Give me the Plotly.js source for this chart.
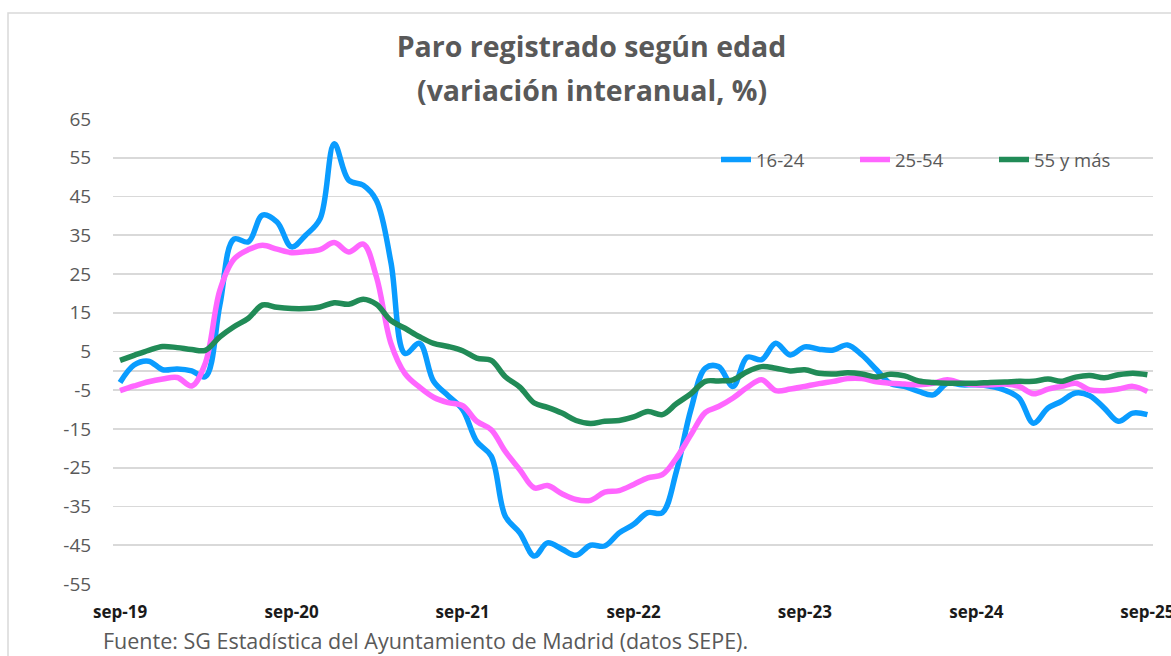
<!DOCTYPE html>
<html>
<head>
<meta charset="utf-8">
<script src="https://cdn.plot.ly/plotly-3.0.1.min.js"></script>
<style>
  html, body { margin: 0; padding: 0; background: #ffffff; }
  #chart { width: 1171px; height: 656px; }
</style>
</head>
<body>
<div id="chart"></div>
<script>
// Monthly observations, sep-2019 .. sep-2025 (73 months)
var startYear = 2019, startMonth = 9, nMonths = 73;
var months = [];
for (var k = 0; k < nMonths; k++) {
  var m = startMonth - 1 + k;
  var yy = startYear + Math.floor(m / 12);
  var mm = (m % 12) + 1;
  months.push(yy + '-' + (mm < 10 ? '0' + mm : mm) + '-01');
}

var seriesNames = ['16-24', '25-54', '55 y más'];

var edad16_24 = [
  -3, 1.5, 2.5, 0.3, 0.5, 0, -1.5, 17, 34, 33.3,
  40.2, 38.4, 32, 35, 39.3, 58.6, 49.2, 47.9, 44, 28,
  4.5, 7.1, -2.7, -6.4, -10, -18.2, -22, -37.5, -41.8, -47.8,
  -44.4, -46, -47.6, -45, -45.2, -41.8, -39.6, -36.6, -36.6, -26,
  -10, 0.7, 1.1, -4, 3.5, 2.9, 7.1, 4.1, 6.2, 5.6,
  5.4, 6.7, 4.1, 0.3, -3.2, -4, -5.3, -6.2, -3.2, -3.6,
  -3.6, -4, -5, -7, -13.5, -9.6, -7.9, -5.7, -6.4, -9.6,
  -13, -10.9, -11.3
];

var edad25_54 = [
  -5.1, -3.9, -2.8, -2.1, -1.7, -3.9, 2, 20.8, 28.8, 31.3,
  32.4, 31.4, 30.5, 30.8, 31.3, 33.1, 30.7, 32.7, 24.3, 7.1,
  -0.7, -4.2, -6.8, -8.2, -9, -13, -15.2, -20.8, -25.5, -30.2,
  -29.6, -31.7, -33.2, -33.4, -31.3, -30.9, -29.3, -27.6, -26.8, -22.5,
  -16.5, -10.7, -9.2, -7, -4.3, -2.3, -5.1, -4.7, -4, -3.3,
  -2.7, -2, -2, -2.8, -3.2, -3.4, -3.6, -3.2, -2.3, -3.2,
  -3.6, -3.6, -3.4, -4, -5.9, -4.7, -4, -3.2, -4.9, -5.1,
  -4.7, -4, -5.3
];

var edad55mas = [
  2.7, 4.0, 5.3, 6.3, 6.0, 5.5, 5.3, 8.8, 11.4, 13.6,
  17, 16.4, 16.1, 16.1, 16.5, 17.6, 17.2, 18.5, 17.2, 13,
  11, 8.8, 7.1, 6.3, 5.2, 3.3, 2.7, -1.5, -4.2, -8.3,
  -9.4, -10.9, -12.8, -13.6, -13, -12.8, -11.9, -10.5, -11.3, -8.5,
  -5.9, -2.7, -2.6, -2.3, -0.2, 1.1, 0.7, 0, 0.3, -0.6,
  -0.8, -0.5, -0.8, -1.6, -0.9, -1.3, -2.6, -3, -3.2, -3.2,
  -3.2, -3, -2.9, -2.7, -2.7, -2.1, -2.7, -1.6, -1.2, -1.8,
  -1, -0.6, -1
];

var tickDates = ['2019-09-01', '2020-09-01', '2021-09-01', '2022-09-01', '2023-09-01', '2024-09-01', '2025-09-01'];
var tickLabels = ['sep-19', 'sep-20', 'sep-21', 'sep-22', 'sep-23', 'sep-24', 'sep-25'];
var yTicks = [-55, -45, -35, -25, -15, -5, 5, 15, 25, 35, 45, 55, 65];

var colors = ['#0A9CFF', '#FF66FF', '#218B57'];
var allSeries = [edad16_24, edad25_54, edad55mas];

var FONT = '"Open Sans", Lato, "DejaVu Sans", sans-serif';
var GRAY = '#595959';

var traces = allSeries.map(function (vals, i) {
  return {
    type: 'scatter',
    mode: 'lines',
    name: seriesNames[i],
    x: months,
    y: vals,
    line: { color: colors[i], width: 5.5, shape: 'spline', smoothing: 1 },
    hoverinfo: 'x+y+name'
  };
});

// plot area in pixels: x 113..1153, y 119..584.5
var L = 113, R = 1171 - 1153, T = 119, B = 656 - 584.5;
var PW = 1171 - L - R, PH = 656 - T - B;
function px(x) { return (x - L) / PW; }
function py(y) { return (656 - B - y) / PH; }

var layout = {
  width: 1171,
  height: 656,
  margin: { l: L, r: R, t: T, b: B, pad: 0 },
  paper_bgcolor: '#ffffff',
  plot_bgcolor: '#ffffff',
  font: { family: FONT, color: GRAY },
  showlegend: true,
  title: {
    text: '<b>Paro registrado según edad</b>',
    font: { family: FONT, size: 28.5, color: GRAY },
    x: 591.5 / 1171, xanchor: 'center', xref: 'container',
    y: 1 - 47 / 656, yanchor: 'middle', yref: 'container'
  },
  xaxis: {
    type: 'date',
    range: ['2019-08-17', '2025-09-13'],
    tickmode: 'array',
    tickvals: tickDates,
    ticktext: tickLabels,
    tickfont: { family: FONT, size: 17, color: '#1a1a1a', weight: 'bold' },
    ticklabeloverflow: 'allow',
    showgrid: false,
    zeroline: false,
    showline: false,
    ticks: 'outside',
    ticklen: 13,
    tickcolor: 'rgba(0,0,0,0)',
    fixedrange: true
  },
  yaxis: {
    range: [-55, 65],
    tickmode: 'array',
    tickvals: yTicks,
    ticktext: yTicks.map(String),
    tickfont: { family: FONT, size: 19, color: GRAY },
    showgrid: true,
    gridcolor: '#d9d9d9',
    gridwidth: 1.6,
    zeroline: true,
    zerolinecolor: '#d9d9d9',
    zerolinewidth: 1.6,
    showline: false,
    ticks: 'outside',
    ticklen: 17,
    tickcolor: 'rgba(0,0,0,0)',
    fixedrange: true
  },
  legend: {
    orientation: 'h',
    x: px(716), xanchor: 'left',
    y: py(141), yanchor: 'top',
    bgcolor: 'rgba(0,0,0,0)',
    borderwidth: 0,
    entrywidth: 94,
    font: { family: FONT, size: 18.5, color: GRAY },
    traceorder: 'normal'
  },
  shapes: [
    {
      type: 'rect', xref: 'paper', yref: 'paper',
      x0: px(8), x1: px(1185), y0: py(680), y1: py(13),
      line: { color: '#d9d9d9', width: 1.5 },
      fillcolor: 'rgba(0,0,0,0)',
      layer: 'below'
    }
  ],
  annotations: [
    {
      text: '<b>(variación interanual, %)</b>',
      xref: 'paper', yref: 'paper',
      x: px(591.5), y: py(90), xanchor: 'center', yanchor: 'middle',
      showarrow: false,
      font: { family: FONT, size: 28.5, color: GRAY }
    },
    {
      text: 'Fuente: SG Estadística del Ayuntamiento de Madrid (datos SEPE).',
      xref: 'paper', yref: 'paper',
      x: px(101), y: py(641), xanchor: 'left', yanchor: 'middle',
      showarrow: false,
      font: { family: FONT, size: 21.5, color: GRAY }
    }
  ]
};

Plotly.newPlot('chart', traces, layout, { displayModeBar: false, staticPlot: true });
</script>
</body>
</html>
